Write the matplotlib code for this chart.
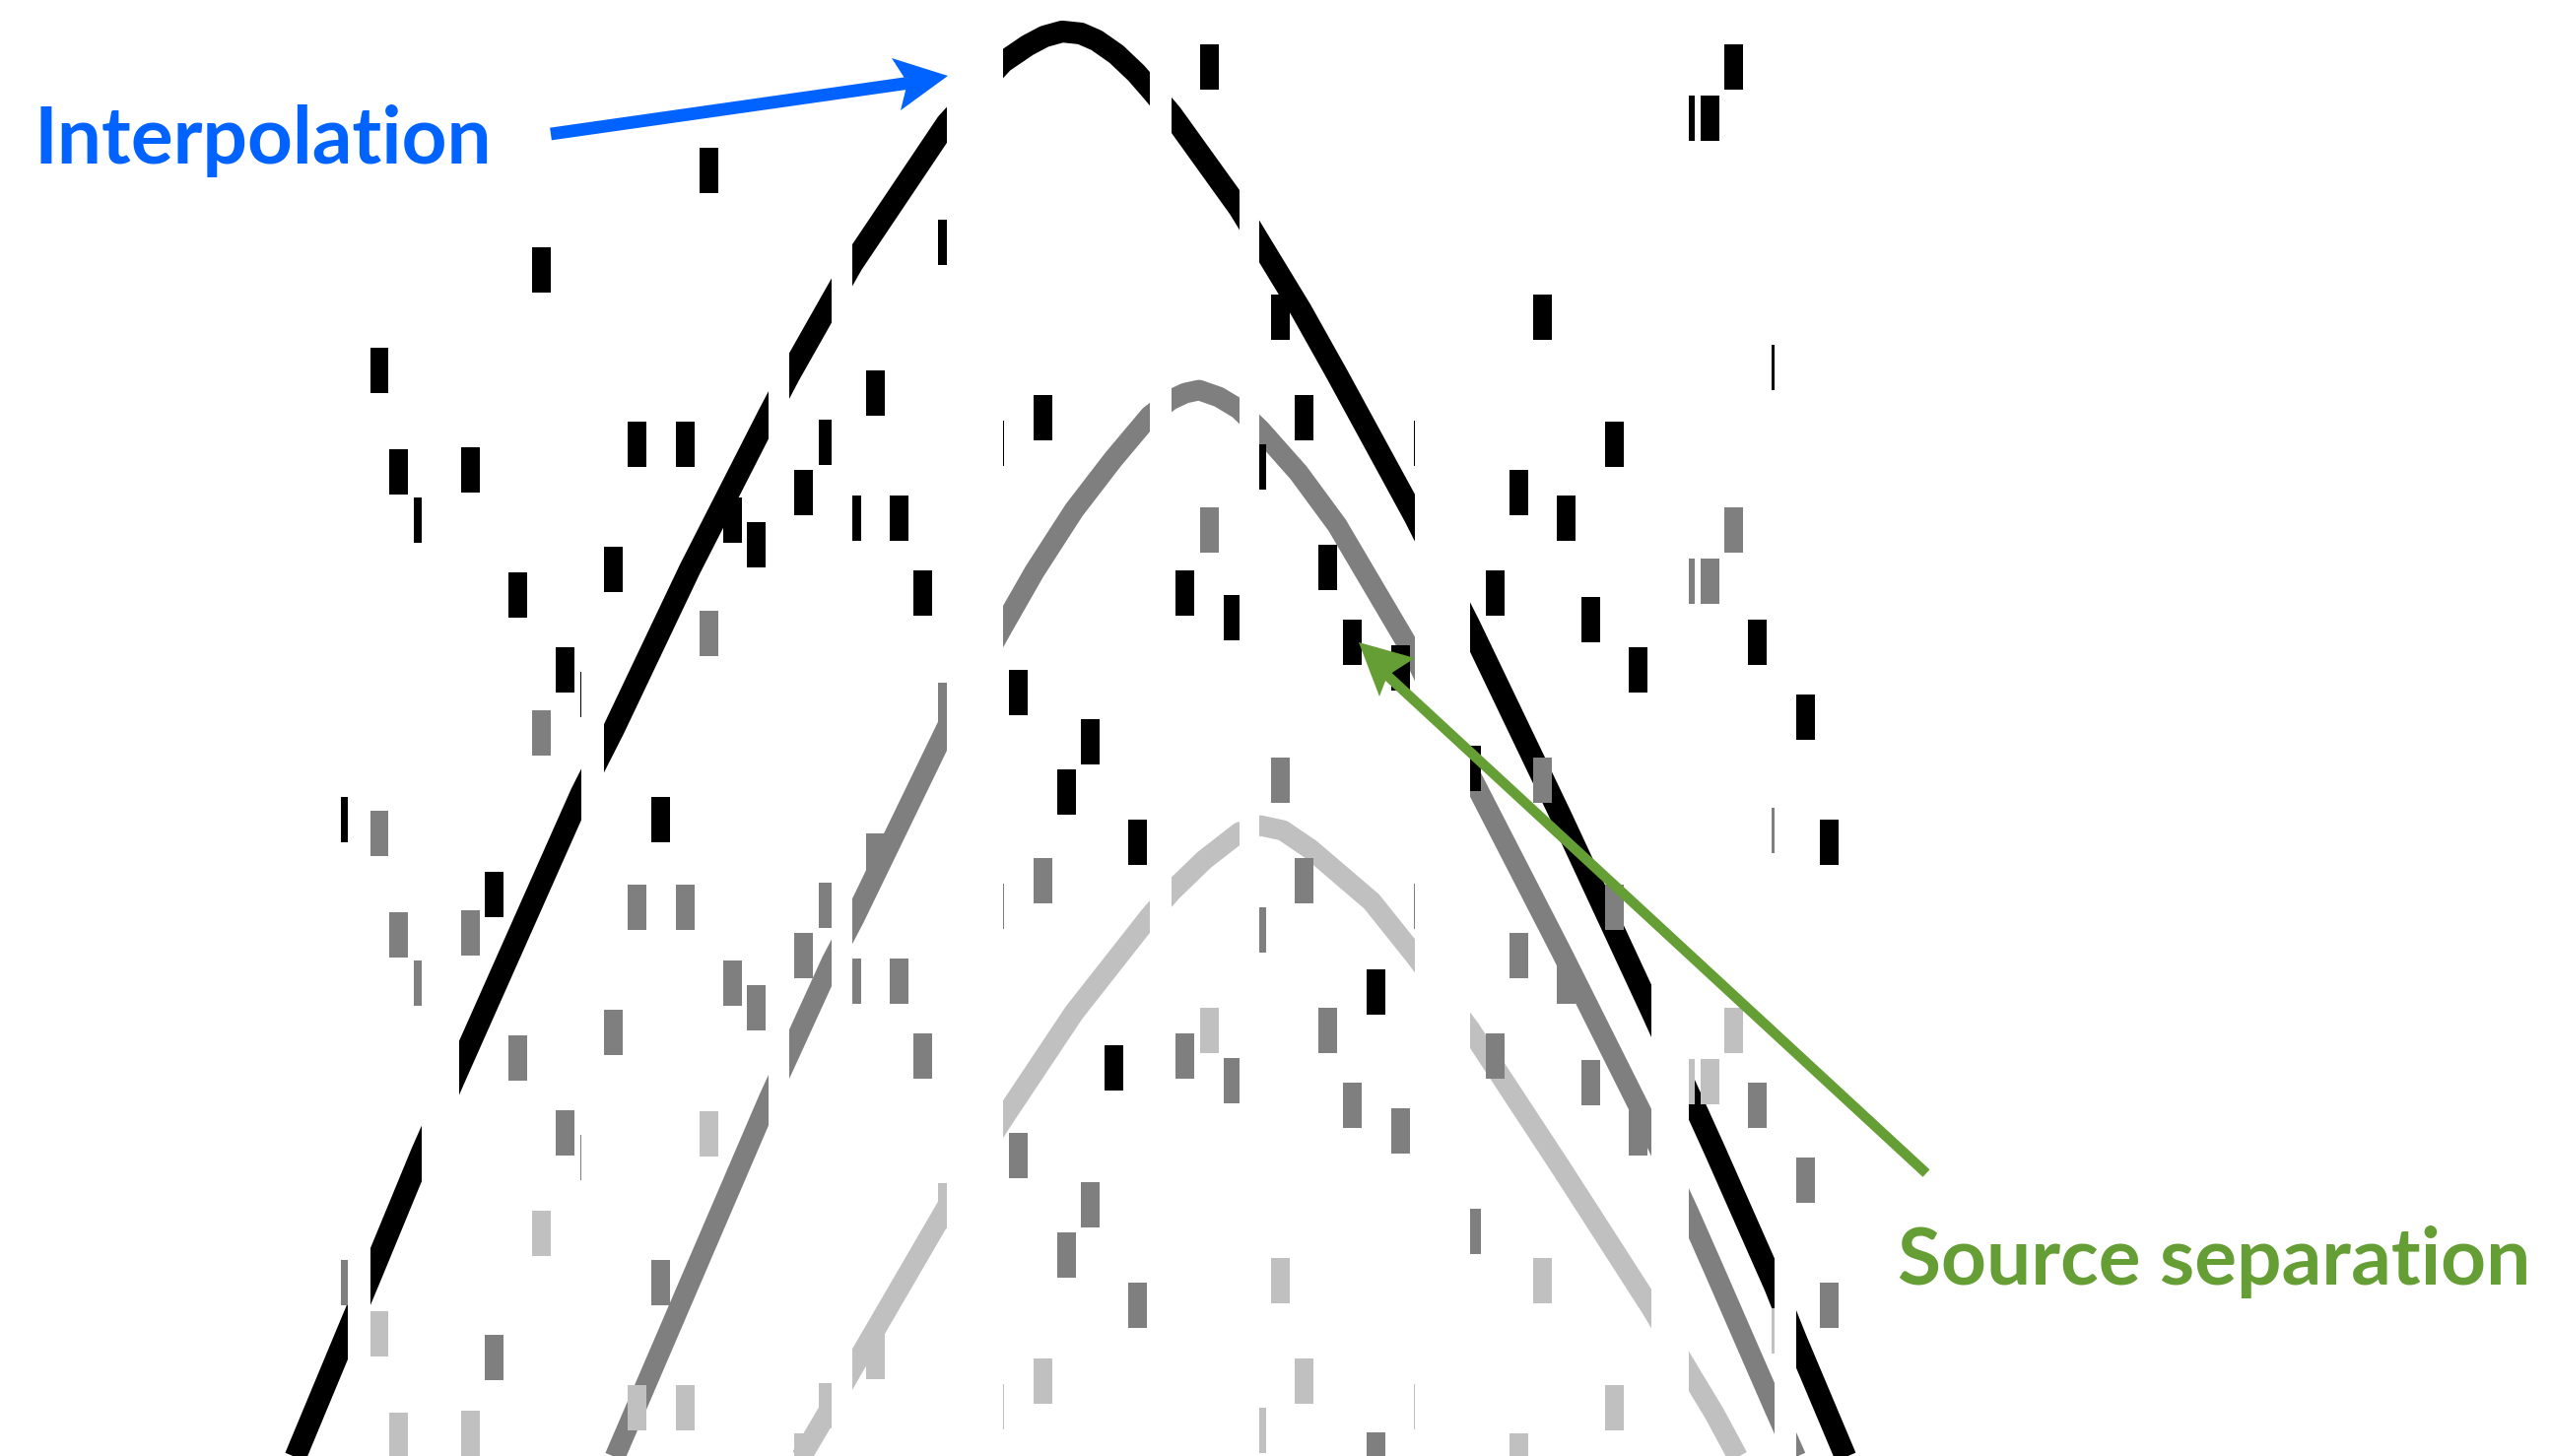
import matplotlib
matplotlib.use("Agg")
import matplotlib.pyplot as plt
from matplotlib.patches import Polygon

W, H = 2587, 1478

# curve centre lines (pixel coords, y down)
black_x = [291, 353, 376, 428, 466, 590, 623, 700, 780, 801, 844, 865, 961, 1018, 1043, 1060,
           1078, 1097, 1113, 1133, 1153, 1167, 1189, 1258, 1278, 1320, 1357, 1436, 1492, 1584,
           1676, 1740, 1801, 1823, 1882]
black_y = [1500, 1351, 1296, 1170, 1084, 805, 740, 578, 421, 381, 305, 268, 125, 63, 46, 37,
           32, 34, 41, 55, 74, 90, 116, 212, 245, 314, 380, 525, 636, 828,
           1026, 1167, 1305, 1360, 1500]

gray_x = [615, 780, 802, 844, 867, 961, 1018, 1050, 1090, 1130, 1167, 1188, 1203, 1217, 1237,
          1257, 1279, 1318, 1357, 1436, 1492, 1584, 1676, 1714, 1740, 1801, 1832]
gray_y = [1500, 1116, 1068, 976, 932, 738, 636, 580, 518, 466, 422, 406, 399, 396, 403,
          415, 436, 480, 533, 667, 786, 965, 1149, 1231, 1290, 1430, 1500]

light_x = [801, 844, 865, 961, 1018, 1090, 1167, 1189, 1222, 1258, 1279, 1302, 1330,
           1392, 1436, 1492, 1584, 1676, 1714, 1740, 1775]
light_y = [1500, 1427, 1390, 1225, 1136, 1028, 930, 905, 873, 845, 838, 843, 862,
           915, 970, 1045, 1185, 1328, 1392, 1435, 1500]

# noise blocks (black pattern); grey and light copies sit lower
noise_x = [710, 540, 952, 375, 879, 637, 686, 831, 395, 468, 420, 734, 806, 855, 903, 758,
           516, 613, 927, 564, 589, 1218, 1290, 1556, 1049, 1314, 1000, 1266, 1629, 1532,
           1580, 1193, 1242, 1338, 1508, 1363, 1412, 1605, 1653, 1024, 1097, 1701, 1726,
           1750, 1798, 1774, 1823, 1847, 1435, 346, 492, 661, 1073, 1145, 1121, 1387, 1484]
noise_y = [150, 251, 223, 353, 376, 428, 428, 426, 456, 454, 505, 505, 477, 503, 503, 530,
           581, 555, 579, 657, 682, 45, 299, 299, 401, 401, 427, 451, 428, 477,
           503, 579, 604, 553, 579, 629, 655, 606, 657, 680, 730, 97, 97,
           45, 350, 629, 705, 832, 427, 809, 885, 809, 781, 832, 1061, 984, 757]
copy_shift = [0, 470, 978]
copy_color = ["#000000", "#7f7f7f", "#c0c0c0"]

# missing traces (blank columns)
gap_left = [353, 428, 590, 780, 844, 961, 1167, 1258, 1436, 1676, 1801]
gap_right = [376, 466, 613, 801, 865, 1018, 1189, 1278, 1492, 1714, 1823]

fig = plt.figure(figsize=(W / 100, H / 100), dpi=100)
ax = fig.add_axes([0, 0, 1, 1])
ax.set_xlim(0, W)
ax.set_ylim(H, 0)
ax.axis("off")

ax.plot(black_x, black_y, color="#000000", lw=16, solid_joinstyle="round", solid_capstyle="butt", zorder=1)
ax.plot(gray_x, gray_y, color="#7f7f7f", lw=15, solid_joinstyle="round", solid_capstyle="butt", zorder=1)
ax.plot(light_x, light_y, color="#c0c0c0", lw=15, solid_joinstyle="round", solid_capstyle="butt", zorder=1)

for shift, col in zip(copy_shift, copy_color):
    ax.bar(noise_x, 46, width=19, bottom=[y + shift for y in noise_y],
           align="edge", color=col, linewidth=0, zorder=2)

ax.bar(gap_left, H, width=[r - l for l, r in zip(gap_left, gap_right)], bottom=0,
       align="edge", color="white", linewidth=0, zorder=3)

# arrows
blue = "#0062ff"
green = "#669e36"
ax.plot([559, 924], [136, 84], color=blue, lw=9.2, solid_capstyle="butt", zorder=4)
ax.add_patch(Polygon([(962, 77), (905, 59), (921, 84), (914, 112)], closed=True,
                     color=blue, lw=0, zorder=5))
ax.plot([1955, 1405], [1191, 683], color=green, lw=7.4, solid_capstyle="butt", zorder=4)
ax.add_patch(Polygon([(1379, 652), (1436, 668), (1408, 686), (1400, 707)], closed=True,
                     color=green, lw=0, zorder=5))

t1 = ax.text(35, 166, "Interpolation", color=blue, fontsize=60, fontweight="bold",
             family="Lato", ha="left", va="baseline", zorder=6)
t2 = ax.text(1926, 1304, "Source separation", color=green, fontsize=60, fontweight="bold",
             family="Lato", ha="left", va="baseline", zorder=6)

fig.canvas.draw()
r = fig.canvas.get_renderer()
for t, target in [(t1, 465), (t2, 643)]:
    w = t.get_window_extent(r).width
    t.set_fontsize(60 * target / w)

fig.savefig("out.png", dpi=100, facecolor="white")
